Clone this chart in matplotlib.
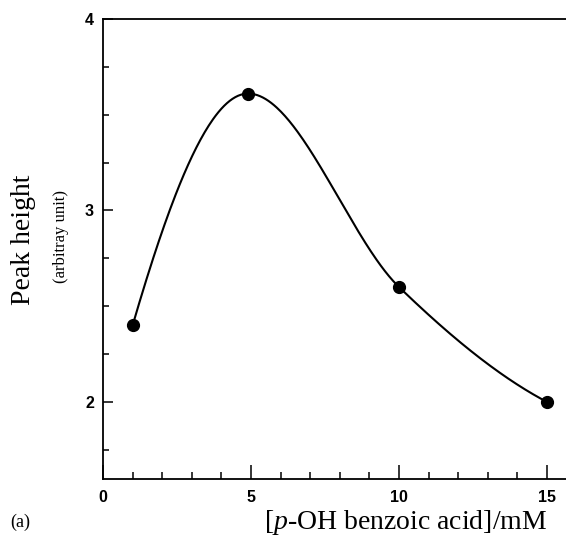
import numpy as np
import matplotlib
matplotlib.use('Agg')
import matplotlib.pyplot as plt
import matplotlib.ticker as mtick

plt.rcParams['mathtext.fontset'] = 'custom'
plt.rcParams['mathtext.rm'] = 'Liberation Serif'
plt.rcParams['mathtext.it'] = 'Liberation Serif:italic'

# data
conc = [1.0, 4.9, 10.0, 15.0]          # [p-OH benzoic acid] / mM
peak = [2.40, 3.61, 2.60, 2.00]         # peak height (arbitrary unit)


def pchip(x, y, xs):
    # monotone cubic hermite curve through the measured points (smooth line in the figure)
    x = np.asarray(x, float)
    y = np.asarray(y, float)
    h = np.diff(x)
    d = np.diff(y) / h
    n = len(x)
    m = np.zeros(n)
    for k in range(1, n - 1):
        if d[k - 1] * d[k] > 0:
            w1 = 2 * h[k] + h[k - 1]
            w2 = h[k] + 2 * h[k - 1]
            m[k] = (w1 + w2) / (w1 / d[k - 1] + w2 / d[k])
    m[0] = ((2 * h[0] + h[1]) * d[0] - h[0] * d[1]) / (h[0] + h[1])
    if np.sign(m[0]) != np.sign(d[0]):
        m[0] = 0
    m[-1] = ((2 * h[-1] + h[-2]) * d[-1] - h[-1] * d[-2]) / (h[-1] + h[-2])
    if np.sign(m[-1]) != np.sign(d[-1]):
        m[-1] = 0
    idx = np.clip(np.searchsorted(x, xs) - 1, 0, n - 2)
    t = (xs - x[idx]) / h[idx]
    h00 = 2 * t**3 - 3 * t**2 + 1
    h10 = t**3 - 2 * t**2 + t
    h01 = -2 * t**3 + 3 * t**2
    h11 = t**3 - t**2
    return h00 * y[idx] + h10 * h[idx] * m[idx] + h01 * y[idx + 1] + h11 * h[idx] * m[idx + 1]


fig = plt.figure(figsize=(5.66, 5.42), dpi=100)
ax = fig.add_axes([0.182, 0.1162, 0.818, 0.849])

xs = np.linspace(conc[0], conc[-1], 300)
ax.plot(xs, pchip(conc, peak, xs), color='black', linewidth=1.5)
ax.plot(conc, peak, 'o', color='black', markersize=8.5)

ax.set_xlim(0, 15.64)
ax.set_ylim(1.598, 4.0)

ax.spines['right'].set_visible(False)
for s in ['left', 'bottom', 'top']:
    ax.spines[s].set_linewidth(1.3)

ax.xaxis.set_major_locator(mtick.MultipleLocator(5))
ax.xaxis.set_minor_locator(mtick.MultipleLocator(1))
ax.yaxis.set_major_locator(mtick.MultipleLocator(1))
ax.yaxis.set_minor_locator(mtick.MultipleLocator(0.25))

ax.tick_params(axis='x', which='major', direction='in', length=10, width=1.1, pad=8)
ax.tick_params(axis='x', which='minor', direction='in', length=5, width=1.1)
ax.tick_params(axis='y', which='major', direction='in', length=7, width=1.1, pad=6.5)
ax.tick_params(axis='y', which='minor', direction='in', length=4.5, width=1.1)
ax.tick_params(top=False, right=False)

for lab in ax.get_xticklabels() + ax.get_yticklabels():
    lab.set_fontfamily('Liberation Sans')
    lab.set_fontweight('bold')
    lab.set_fontsize(11.5)

# axis titles
fig.text(0.716, 0.036, r'[$\mathit{p}$-OH benzoic acid]/mM', ha='center', va='center',
         family='Liberation Serif', fontsize=20)
fig.text(0.041, 0.557, 'Peak height', rotation=90, ha='center', va='center',
         family='Liberation Serif', fontsize=20)
fig.text(0.108, 0.563, '(arbitray unit)', rotation=90, ha='center', va='center',
         family='Liberation Serif', fontsize=12)
fig.text(0.018, 0.036, '(a)', ha='left', va='center',
         family='Liberation Serif', fontsize=13)

plt.savefig('out.png', dpi=100)
